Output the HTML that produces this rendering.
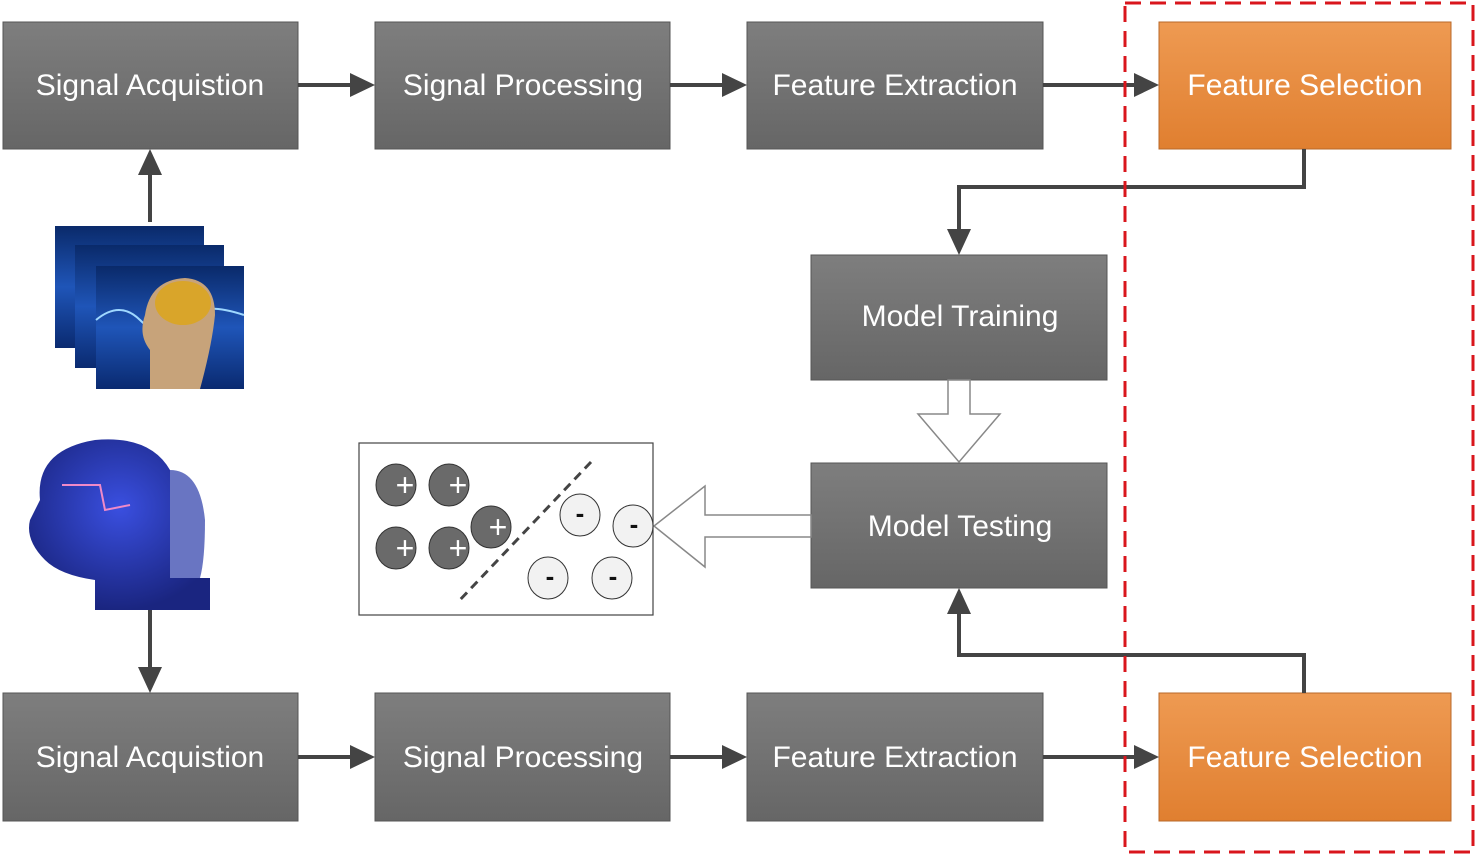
<!DOCTYPE html>
<html><head><meta charset="utf-8"><style>
html,body{margin:0;padding:0;background:#fff;}
svg text{font-family:"Liberation Sans",sans-serif;}
</style></head><body>
<svg width="1475" height="854" viewBox="0 0 1475 854" xmlns="http://www.w3.org/2000/svg">
<defs>
<linearGradient id="g" x1="0" y1="0" x2="0" y2="1"><stop offset="0" stop-color="#7e7e7e"/><stop offset="1" stop-color="#666"/></linearGradient>
<linearGradient id="o" x1="0" y1="0" x2="0" y2="1"><stop offset="0" stop-color="#ee9a52"/><stop offset="1" stop-color="#e07f30"/></linearGradient>
<linearGradient id="bl" x1="0" y1="0" x2="0" y2="1"><stop offset="0" stop-color="#0a2a6a"/><stop offset="0.5" stop-color="#1f55b8"/><stop offset="1" stop-color="#0a2a70"/></linearGradient>
<radialGradient id="hd" cx="0.5" cy="0.4" r="0.6"><stop offset="0" stop-color="#3a4fe0"/><stop offset="1" stop-color="#1a2580"/></radialGradient>
<marker id="a" markerWidth="10" markerHeight="10" refX="9" refY="5" orient="auto" markerUnits="userSpaceOnUse"><path d="M0,0 L0,0"/></marker>
</defs>
<g fill="url(#g)" stroke="#555" stroke-width="1">
<rect x="3" y="22" width="295" height="127"/>
<rect x="375" y="22" width="295" height="127"/>
<rect x="747" y="22" width="296" height="127"/>
<rect x="3" y="693" width="295" height="128"/>
<rect x="375" y="693" width="295" height="128"/>
<rect x="747" y="693" width="296" height="128"/>
<rect x="811" y="255" width="296" height="125"/>
<rect x="811" y="463" width="296" height="125"/>
</g>
<g fill="url(#o)" stroke="#b8682a">
<rect x="1159" y="22" width="292" height="127"/>
<rect x="1159" y="693" width="292" height="128"/>
</g>
<g fill="#fff" font-size="30" text-anchor="middle">
<text x="150" y="95">Signal Acquistion</text>
<text x="523" y="95">Signal Processing</text>
<text x="895" y="95">Feature Extraction</text>
<text x="1305" y="95">Feature Selection</text>
<text x="150" y="767">Signal Acquistion</text>
<text x="523" y="767">Signal Processing</text>
<text x="895" y="767">Feature Extraction</text>
<text x="1305" y="767">Feature Selection</text>
<text x="960" y="326">Model Training</text>
<text x="960" y="536">Model Testing</text>
</g>
<g stroke="#444" stroke-width="4" fill="none">
<line x1="298" y1="85" x2="355" y2="85"/>
<line x1="670" y1="85" x2="727" y2="85"/>
<line x1="1043" y1="85" x2="1139" y2="85"/>
<line x1="298" y1="757" x2="355" y2="757"/>
<line x1="670" y1="757" x2="727" y2="757"/>
<line x1="1043" y1="757" x2="1139" y2="757"/>
<polyline points="1304,149 1304,187 959,187 959,235"/>
<polyline points="1304,693 1304,655 959,655 959,608"/>
<line x1="150" y1="222" x2="150" y2="170"/>
<line x1="150" y1="610" x2="150" y2="673"/>
</g>
<g fill="#444">
<polygon points="375,85 350,73 350,97"/>
<polygon points="747,85 722,73 722,97"/>
<polygon points="1159,85 1134,73 1134,97"/>
<polygon points="375,757 350,745 350,769"/>
<polygon points="747,757 722,745 722,769"/>
<polygon points="1159,757 1134,745 1134,769"/>
<polygon points="959,255 947,229 971,229"/>
<polygon points="959,588 947,614 971,614"/>
<polygon points="150,149 138,175 162,175"/>
<polygon points="150,693 138,667 162,667"/>
</g>
<polygon points="948,380 970,380 970,414 1000,414 959,462 918,414 948,414" fill="#fff" stroke="#888" stroke-width="1.5"/>
<polygon points="811,515 811,537 705,537 705,567 654,526 705,486 705,515" fill="#fff" stroke="#888" stroke-width="1.5"/>
<rect x="1125" y="3" width="348" height="849" fill="none" stroke="#d9161c" stroke-width="3" stroke-dasharray="16,9"/>
<rect x="359" y="443" width="294" height="172" fill="#fff" stroke="#444" stroke-width="1.2"/>
<line x1="591" y1="462" x2="457" y2="603" stroke="#444" stroke-width="3" stroke-dasharray="9,6"/>
<g fill="#6a6a6a" stroke="#333">
<ellipse cx="396" cy="485" rx="20" ry="21"/><ellipse cx="449" cy="485" rx="20" ry="21"/>
<ellipse cx="396" cy="548" rx="20" ry="21"/><ellipse cx="449" cy="548" rx="20" ry="21"/>
<ellipse cx="491" cy="527" rx="20" ry="21"/>
</g>
<g fill="#f2f2f2" stroke="#333">
<ellipse cx="580" cy="515" rx="20" ry="21"/><ellipse cx="633" cy="526" rx="20" ry="21"/>
<ellipse cx="548" cy="578" rx="20" ry="21"/><ellipse cx="612" cy="578" rx="20" ry="21"/>
</g>
<g fill="#fff" font-size="32" text-anchor="middle">
<text x="405" y="496">+</text><text x="458" y="496">+</text>
<text x="405" y="559">+</text><text x="458" y="559">+</text>
<text x="498" y="538">+</text>
</g>
<g fill="#111" font-size="26" text-anchor="middle" font-weight="bold">
<text x="580" y="522">-</text><text x="634" y="533">-</text>
<text x="550" y="585">-</text><text x="613" y="585">-</text>
</g>
<g>
<rect x="55" y="226" width="149" height="122" fill="url(#bl)"/>
<rect x="75" y="245" width="149" height="123" fill="url(#bl)"/>
<rect x="96" y="266" width="148" height="123" fill="url(#bl)"/>
<path d="M96,320 Q120,300 140,320 T180,320 T244,315" stroke="#9fd8ff" stroke-width="2" fill="none"/>
<path d="M150,389 L150,350 Q138,335 145,315 Q150,280 185,278 Q215,280 215,315 Q212,345 200,389 Z" fill="#c7a37a"/>
<ellipse cx="183" cy="303" rx="28" ry="22" fill="#d9a52a"/>
</g>
<g>
<path d="M40,500 Q35,450 95,440 Q150,435 170,470 L170,578 L210,578 L210,610 L95,610 L95,580 Q60,575 45,560 Q25,540 30,520 Z" fill="url(#hd)"/>
<path d="M170,470 Q200,470 205,520 Q205,560 200,578 L170,578 Z" fill="#2a3aa8" opacity="0.7"/>
<path d="M62,485 L100,485 L105,510 L130,505" stroke="#f08ac8" stroke-width="2" fill="none"/>
</g>
</svg>
</body></html>
